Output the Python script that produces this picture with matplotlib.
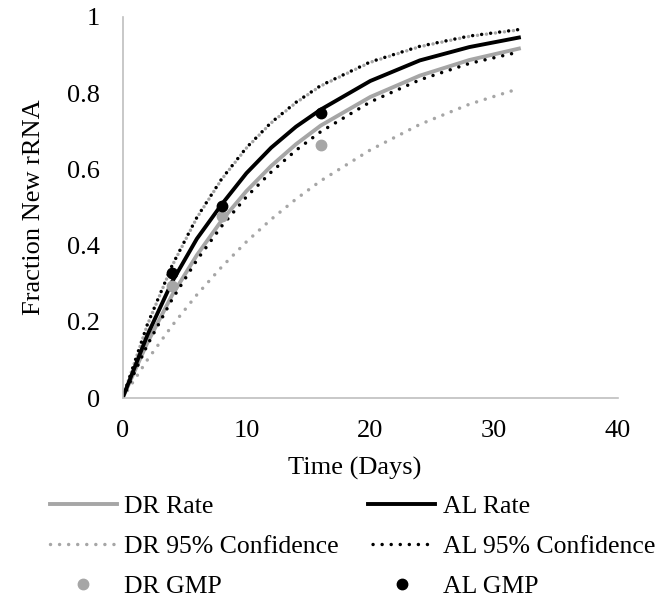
import matplotlib
matplotlib.use("Agg")
import matplotlib.pyplot as plt

plt.rcParams.update({"font.family": ["Liberation Serif", "DejaVu Serif"], "font.size": 19})

GREY = "#A6A6A6"
BLACK = "#000000"

# values
t = [0, 2, 4, 6, 8, 10, 12, 14, 16, 20, 24, 28, 32]
dr_rate = [0, 0.145, 0.270, 0.375, 0.466, 0.543, 0.609, 0.666, 0.715, 0.790, 0.846, 0.887, 0.917]
al_rate = [0, 0.165, 0.305, 0.418, 0.508, 0.590, 0.657, 0.712, 0.757, 0.832, 0.886, 0.921, 0.946]
dr_low = [0, 0.100, 0.190, 0.271, 0.344, 0.410, 0.469, 0.522, 0.570, 0.651, 0.718, 0.771, 0.812]
dr_up = [0, 0.192, 0.347, 0.473, 0.574, 0.656, 0.722, 0.775, 0.819, 0.881, 0.922, 0.949, 0.966]
al_low = [0, 0.139, 0.259, 0.362, 0.451, 0.528, 0.593, 0.650, 0.699, 0.777, 0.835, 0.878, 0.908]
al_up = [0, 0.193, 0.348, 0.474, 0.575, 0.657, 0.723, 0.776, 0.820, 0.882, 0.923, 0.950, 0.967]
gmp_t = [4, 8, 16]
dr_gmp = [0.295, 0.478, 0.663]
al_gmp = [0.329, 0.503, 0.749]
yticks = [0, 0.2, 0.4, 0.6, 0.8, 1]
ylabels = ["0", "0.2", "0.4", "0.6", "0.8", "1"]
xticks = [0, 10, 20, 30, 40]

fig = plt.figure(figsize=(6.64, 6.06), dpi=100)
ax = fig.add_axes([0.1846, 0.3432, 0.7461, 0.6288])

dot = dict(lw=2.5, ls=(0, (0.01, 2.6)), dash_capstyle="round")
h1, = ax.plot(t, dr_rate, color=GREY, lw=2.8, label="DR Rate")
ax.plot(t, dr_low, color=GREY, **dot)
h2, = ax.plot(t, dr_up, color=GREY, label="DR 95% Confidence", **dot)
h4, = ax.plot(t, al_rate, color=BLACK, lw=2.8, label="AL Rate")
ax.plot(t, al_low, color=BLACK, **dot)
h5, = ax.plot(t, al_up, color=BLACK, label="AL 95% Confidence",
              lw=2.5, ls=(1.3, (0.01, 2.6)), dash_capstyle="round")
h3, = ax.plot(gmp_t, dr_gmp, "o", color=GREY, ms=7.5, label="DR GMP")
h6, = ax.plot(gmp_t, al_gmp, "o", color=BLACK, ms=7.5, label="AL GMP")

ax.set_xlim(0, 40)
ax.set_ylim(0, 1)
ax.set_xticks(xticks)
ax.set_yticks(yticks)
ax.set_yticklabels(ylabels)
ax.tick_params(length=0, labelsize=19, pad=16)
for s in ["top", "right"]:
    ax.spines[s].set_visible(False)
for s in ["left", "bottom"]:
    ax.spines[s].set_color("#BFBFBF")
    ax.spines[s].set_linewidth(1.2)
ax.set_xlabel("Time (Days)", fontsize=19)
ax.xaxis.set_label_coords(0.468, -0.155)
ax.set_ylabel("Fraction New rRNA", fontsize=19, labelpad=16)

fig.legend([h1, h2, h3, h4, h5, h6], [h.get_label() for h in [h1, h2, h3, h4, h5, h6]],
           ncol=2, loc="upper left", bbox_to_anchor=(0.075, 0.183), frameon=False,
           fontsize=18.5, handlelength=2.6, handletextpad=0.3, columnspacing=1.15,
           labelspacing=0.67, borderpad=0, borderaxespad=0)

fig.savefig("out.png", dpi=100, facecolor="white")
